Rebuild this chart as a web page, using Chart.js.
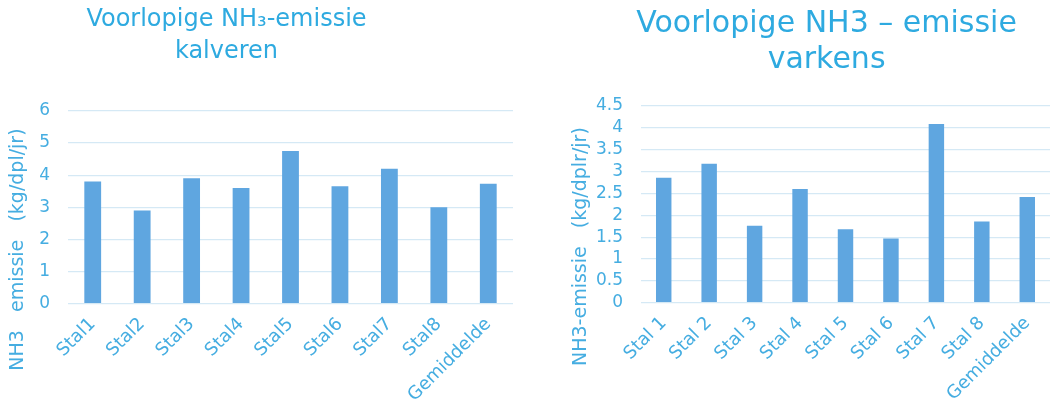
<!DOCTYPE html>
<html>
<head>
<meta charset="utf-8">
<script src="https://cdn.jsdelivr.net/npm/chart.js@4"></script>
<style>
  html, body { margin: 0; padding: 0; background: #fff; overflow: hidden; width: 1055px; height: 417px; }
  .box { position: absolute; top: 0; height: 417px; }
  #links { left: -60px; width: 580px; }
  #rechts { left: 565px; width: 522px; }
</style>
</head>
<body>
<div class="box" id="links"><canvas id="kalveren" width="580" height="417"></canvas></div>
<div class="box" id="rechts"><canvas id="varkens" width="522" height="417"></canvas></div>
<script>
// kalveren
const stallenKalf = ["Stal1", "Stal2", "Stal3", "Stal4", "Stal5", "Stal6", "Stal7", "Stal8", "Gemiddelde"];
const emissieKalf = [3.8, 2.9, 3.9, 3.6, 4.75, 3.65, 4.2, 3.0, 3.73];

// varkens
const stallenVarken = ["Stal 1", "Stal 2", "Stal 3", "Stal 4", "Stal 5", "Stal 6", "Stal 7", "Stal 8", "Gemiddelde"];
const emissieVarken = [2.86, 3.18, 1.76, 2.6, 1.68, 1.47, 4.09, 1.86, 2.42];

const blauw = "#5fa6e0";
const tekst = "#45ade1";
const raster = "#d5e9f5";
const font = "'DejaVu Sans', Verdana, sans-serif";

// lege ruimte achter de astitel schuift hem omlaag, zoals in het origineel
const opvulling = "              ";

function maakGrafiek(id, labels, waarden, titel, titelMaat, titelRegel, asTitel, max, stap, instel) {
  const ctx = document.getElementById(id).getContext("2d");
  return new Chart(ctx, {
    type: "bar",
    data: {
      labels: labels,
      datasets: [{
        data: waarden,
        backgroundColor: blauw,
        borderWidth: 0,
        categoryPercentage: 1,
        barPercentage: 0.34
      }]
    },
    options: {
      responsive: false,
      animation: false,
      layout: { padding: { top: instel.boven, right: instel.rechts, bottom: instel.onder, left: 0 } },
      plugins: {
        legend: { display: false },
        tooltip: { enabled: false },
        title: {
          display: true,
          text: titel,
          color: "#2eaae0",
          font: { family: font, size: titelMaat, weight: "normal", lineHeight: titelRegel },
          padding: { top: 0, bottom: instel.titelOnder }
        }
      },
      scales: {
        x: {
          grid: { display: false },
          border: { display: false },
          ticks: {
            color: tekst,
            font: { family: font, size: 18 },
            minRotation: 45,
            maxRotation: 45,
            padding: 2
          }
        },
        y: {
          min: 0,
          max: max,
          afterFit: function (as) { as.width = instel.asBreedte; },
          grid: { color: raster, lineWidth: 1.2, drawTicks: false },
          border: { display: false },
          ticks: {
            stepSize: stap,
            autoSkip: false,
            color: tekst,
            font: { family: font, size: 17 },
            padding: 18,
            callback: v => v
          },
          title: {
            display: true,
            text: asTitel + opvulling,
            color: tekst,
            font: { family: font, size: 19 },
            padding: { top: instel.titelLinks, bottom: 0 }
          }
        }
      }
    }
  });
}

maakGrafiek("kalveren", stallenKalf, emissieKalf,
  ["Voorlopige NH\u2083-emissie", "kalveren"], 24, 1.33,
  "NH3   emissie   (kg/dpl/jr)", 6, 1,
  { boven: 4, rechts: 7, onder: 9, titelOnder: 43, asBreedte: 128, titelLinks: 67 });

// voorloopspaties zetten de titel iets naar rechts, boven de grafiek
maakGrafiek("varkens", stallenVarken, emissieVarken,
  ["    Voorlopige NH3 \u2013 emissie", "    varkens"], 30, 1.2,
  "NH3-emissie   (kg/dplr/jr)", 4.5, 0.5,
  { boven: 6, rechts: 37, onder: 10, titelOnder: 28, asBreedte: 76, titelLinks: 5 });
</script>
</body>
</html>
